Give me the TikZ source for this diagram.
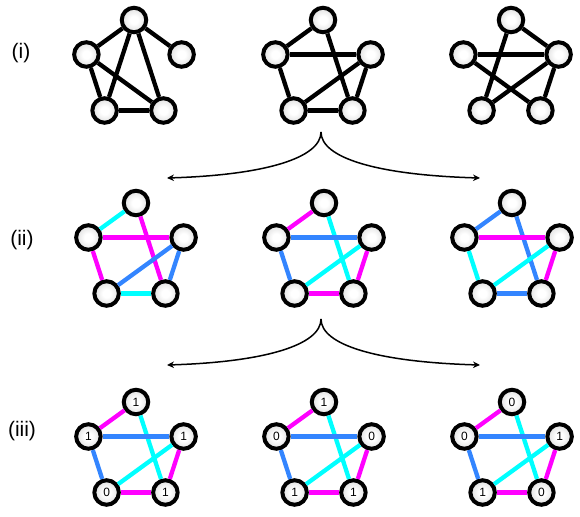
\documentclass[tikz,border=0pt]{standalone}
\usepackage{fontspec}
\setmainfont{Liberation Sans}
\usetikzlibrary{arrows.meta}

\definecolor{magline}{HTML}{FF00FF}
\definecolor{cyanline}{HTML}{00FFFF}
\definecolor{blueline}{HTML}{3385FF}

\pgfdeclareradialshading{vertexball}{\pgfpoint{0bp}{0bp}}{%
  color(0bp)=(white); color(8bp)=(white); color(36bp)=(gray!40); color(50bp)=(gray!55)}

\tikzset{
  vertex/.style={circle, draw, line width=4pt, minimum size=24.5pt, inner sep=0pt,
    shading=vertexball, font=\fontsize{12}{12}\selectfont},
  edge/.style={line width=4.3pt},
  rowlabel/.style={font=\fontsize{21}{21}\selectfont},
  forkarrow/.style={line width=1.5pt, -{Stealth[length=7pt, width=6.5pt]}}
}

\begin{document}
\begin{tikzpicture}[x=1pt, y=-1pt]
\useasboundingbox (0,0) rectangle (580,516);

% row labels
\node[rowlabel] (lab1) at (21,53) {(i)};
\node[rowlabel] (lab2) at (22,240) {(ii)};
\node[rowlabel] (lab3) at (22,431) {(iii)};

% vertices of the nine pentagons
\foreach \g/\cx/\cy/\lt/\ll/\lr/\lbl/\lbr in {
    11/134/70/{}/{}/{}/{}/{}, 12/323/70/{}/{}/{}/{}/{}, 13/511/70/{}/{}/{}/{}/{},
    21/136/253/{}/{}/{}/{}/{}, 22/324/253/{}/{}/{}/{}/{}, 23/512/253/{}/{}/{}/{}/{},
    31/136/452/1/1/1/0/1, 32/324/452/1/0/0/1/1, 33/512/452/0/0/1/1/0} {
  \node[vertex] (g\g t) at (\cx, \cy-50) {\lt};
  \node[vertex] (g\g l) at (\cx-47.6, \cy-15.5) {\ll};
  \node[vertex] (g\g r) at (\cx+47.6, \cy-15.5) {\lr};
  \node[vertex] (g\g bl) at (\cx-29.4, \cy+40.5) {\lbl};
  \node[vertex] (g\g br) at (\cx+29.4, \cy+40.5) {\lbr};
}

% (i) plain graphs
\foreach \a/\b in {t/l, t/r, t/bl, t/br, l/bl, l/br, bl/br}
  \draw[edge] (g11\a) -- (g11\b);
\foreach \a/\b in {t/l, t/br, l/r, l/bl, r/bl, r/br, bl/br}
  \draw[edge] (g12\a) -- (g12\b);
\foreach \a/\b in {t/r, t/bl, l/r, l/br, r/bl, r/br}
  \draw[edge] (g13\a) -- (g13\b);

% (ii) coloured edges
\foreach \a/\b/\c in {t/l/cyanline, t/br/magline, l/r/magline, l/bl/magline,
    r/bl/blueline, r/br/blueline, bl/br/cyanline}
  \draw[edge, draw=\c] (g21\a) -- (g21\b);
\foreach \a/\b/\c in {t/l/magline, t/br/cyanline, l/r/blueline, l/bl/blueline,
    r/bl/cyanline, r/br/magline, bl/br/magline}
  \draw[edge, draw=\c] (g22\a) -- (g22\b);
\foreach \a/\b/\c in {t/l/blueline, t/br/blueline, l/r/magline, l/bl/cyanline,
    r/bl/cyanline, r/br/magline, bl/br/blueline}
  \draw[edge, draw=\c] (g23\a) -- (g23\b);

% (iii) same colouring, labelled vertices
\foreach \g in {31, 32, 33}
  \foreach \a/\b/\c in {t/l/magline, t/br/cyanline, l/r/blueline, l/bl/blueline,
      r/bl/cyanline, r/br/magline, bl/br/magline}
    \draw[edge, draw=\c] (g\g\a) -- (g\g\b);

% branching arrows
\coordinate (fork1) at (321,132);
\coordinate (left1) at (167,178);
\coordinate (right1) at (480,178);
\draw[forkarrow] (fork1) .. controls (321,158) and (265,175) .. (left1);
\draw[forkarrow] (fork1) .. controls (321,158) and (377,175) .. (right1);

\coordinate (fork2) at (321,319);
\coordinate (left2) at (167,365);
\coordinate (right2) at (480,365);
\draw[forkarrow] (fork2) .. controls (321,345) and (265,362) .. (left2);
\draw[forkarrow] (fork2) .. controls (321,345) and (377,362) .. (right2);
\end{tikzpicture}
\end{document}
